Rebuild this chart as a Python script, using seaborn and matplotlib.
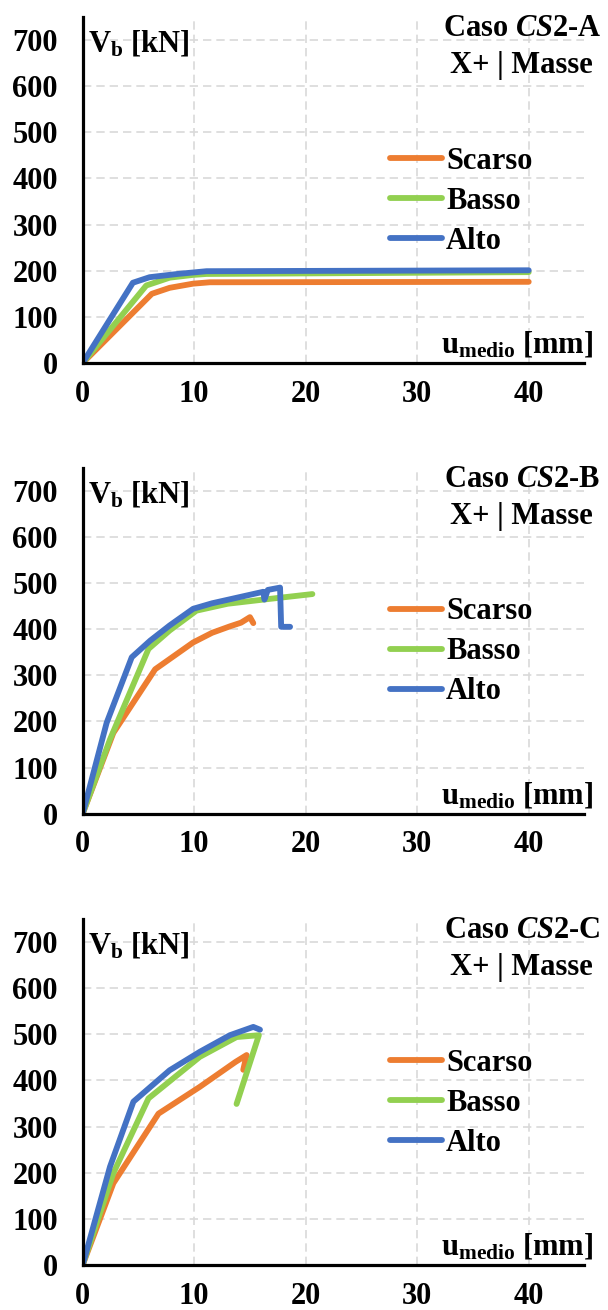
import seaborn as sns
import matplotlib.pyplot as plt
import pandas as pd

# Series / styling
series = ['Scarso', 'Basso', 'Alto']
colors = ['#ED7D31', '#92D050', '#4472C4']
cases = ['A', 'B', 'C']

# Caso CS2-A
A_scarso_u = [0, 6.2, 7.8, 9.9, 11.4, 40]
A_scarso_V = [0, 150, 163, 172, 175, 176]
A_basso_u = [0, 5.7, 7.8, 9.9, 11.1, 40]
A_basso_V = [0, 168, 185, 191, 193, 197]
A_alto_u = [0, 4.5, 6.0, 8.5, 11.1, 40]
A_alto_V = [0, 174, 186, 193, 199, 201]

# Caso CS2-B
B_scarso_u = [0, 2.75, 6.5, 9.9, 11.6, 13.2, 14.2, 15.0, 15.3]
B_scarso_V = [0, 175, 313, 371, 392, 406, 414, 426, 413]
B_basso_u = [0, 2.45, 5.9, 7.8, 10.2, 13.0, 16.2, 20.6]
B_basso_V = [0, 161, 357, 397, 440, 455, 464, 476]
B_alto_u = [0, 2.15, 4.4, 6.05, 7.8, 9.9, 11.6, 16.2, 16.3, 16.6, 17.7, 17.8, 18.6]
B_alto_V = [0, 197, 339, 375, 408, 444, 456, 481, 464, 485, 490, 405, 405]

# Caso CS2-C
C_scarso_u = [0, 2.75, 6.8, 10.5, 13.7, 14.7, 14.4]
C_scarso_V = [0, 177, 328, 386, 440, 455, 423]
C_basso_u = [0, 2.75, 5.9, 10.5, 13.8, 15.8, 13.8]
C_basso_V = [0, 199, 361, 451, 494, 498, 349]
C_alto_u = [0, 2.45, 4.55, 7.8, 10.5, 13.2, 15.3, 15.9]
C_alto_V = [0, 213, 354, 422, 462, 498, 516, 510]

panels = {
    'A': [(A_scarso_u, A_scarso_V), (A_basso_u, A_basso_V), (A_alto_u, A_alto_V)],
    'B': [(B_scarso_u, B_scarso_V), (B_basso_u, B_basso_V), (B_alto_u, B_alto_V)],
    'C': [(C_scarso_u, C_scarso_V), (C_basso_u, C_basso_V), (C_alto_u, C_alto_V)],
}

sns.set_style('white')
plt.rcParams['font.family'] = ['Liberation Serif', 'DejaVu Serif']
plt.rcParams['font.weight'] = 'bold'
plt.rcParams['text.color'] = 'black'
plt.rcParams['mathtext.fontset'] = 'custom'
plt.rcParams['mathtext.rm'] = 'Liberation Serif:bold'
plt.rcParams['mathtext.it'] = 'Liberation Serif:bold:italic'
plt.rcParams['mathtext.bf'] = 'Liberation Serif:bold'

FS = 22
fig = plt.figure(figsize=(6.08, 13.10), dpi=100)
bottoms = [0.7229, 0.3789, 0.0344]

for case, b in zip(cases, bottoms):
    ax = fig.add_axes([0.136, b, 0.8253, 0.2641])

    rows = []
    for name, (u, v) in zip(series, panels[case]):
        for ui, vi in zip(u, v):
            rows.append({'serie': name, 'u': ui, 'V': vi})
    df = pd.DataFrame(rows)

    sns.lineplot(data=df, x='u', y='V', hue='serie', hue_order=series,
                 palette=colors, sort=False, estimator=None, lw=4.2,
                 solid_capstyle='round', solid_joinstyle='round', ax=ax)

    handles, labels = ax.get_legend_handles_labels()
    for h in handles:
        h.set_linewidth(4.2)
        h.set_solid_capstyle('round')
    leg = ax.legend(handles, labels, loc='center left', bbox_to_anchor=(0.612, 0.468),
                    frameon=False, borderpad=0, borderaxespad=0, handlelength=1.72,
                    handletextpad=0.12, labelspacing=0.36, fontsize=FS)
    for t in leg.get_texts():
        t.set_color('black')

    ax.set_xlim(0, 45)
    ax.set_ylim(0, 750)
    ax.set_xticks([0, 10, 20, 30, 40])
    ax.set_yticks(range(0, 701, 100))
    ax.grid(True, color='#D9D9D9', ls=(0, (5, 3)), lw=1.2)
    ax.set_axisbelow(True)
    for s in ['top', 'right']:
        ax.spines[s].set_visible(False)
    for s in ['left', 'bottom']:
        ax.spines[s].set_linewidth(2.3)
        ax.spines[s].set_color('black')
    ax.tick_params(direction='out', length=5, width=2.3, labelsize=FS, colors='black')
    ax.tick_params(axis='y', pad=13)
    ax.tick_params(axis='x', pad=7)
    ax.set_xlabel('')
    ax.set_ylabel('')

    # Titles and axis labels
    ax.text(0.875, 0.945, r'Caso $\mathit{CS}$2-' + case, transform=ax.transAxes,
            ha='center', va='baseline', fontsize=FS, fontweight='bold', color='black')
    ax.text(0.875, 0.838, 'X+ | Masse', transform=ax.transAxes,
            ha='center', va='baseline', fontsize=FS, fontweight='bold', color='black')
    ax.text(0.01, 0.90, r'$\mathrm{V_b}$ [kN]', transform=ax.transAxes,
            ha='left', va='baseline', fontsize=FS, fontweight='bold', color='black')
    ax.text(1.017, 0.029, r'$\mathrm{u_{medio}}$ [mm]', transform=ax.transAxes,
            ha='right', va='baseline', fontsize=FS, fontweight='bold', color='black')

fig.savefig('out.png', dpi=100)
